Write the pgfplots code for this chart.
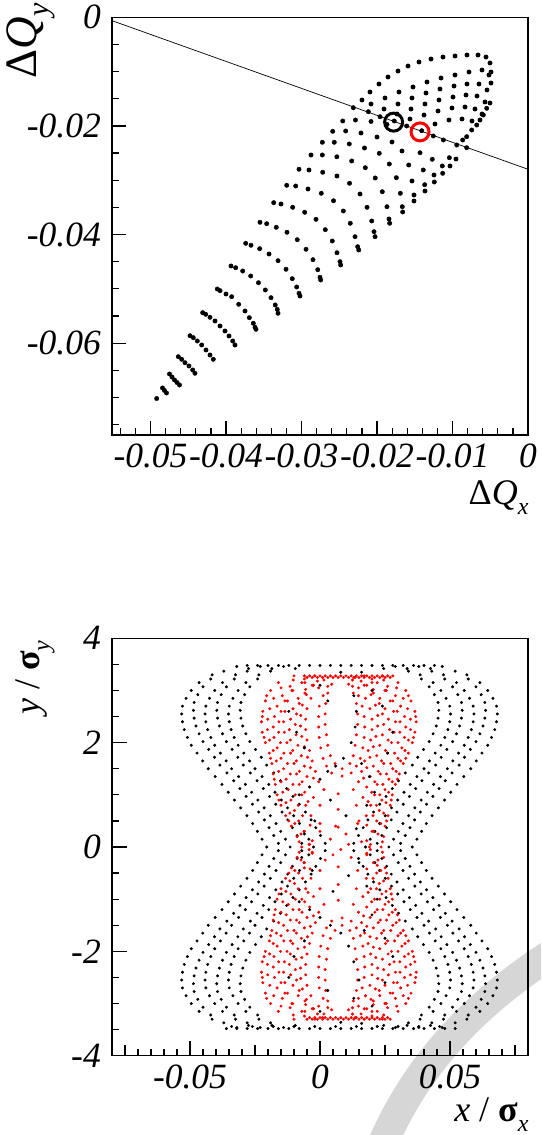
\documentclass[border=0pt]{standalone}
\usepackage{fontspec}
\setmainfont{Liberation Serif}
\usepackage{pgfplots}
\pgfplotsset{compat=1.18}
\definecolor{wm}{RGB}{214,214,214}
\newcommand{\lbl}{\fontsize{35.5}{35.5}\selectfont}
\newcommand{\ttl}{\fontsize{36}{36}\selectfont}
\newcommand{\ttlbig}{\fontsize{45}{45}\selectfont}
\newcommand{\sub}[1]{\raisebox{-0.28em}{\fontsize{24}{24}\selectfont\textit{#1}}}
\newcommand{\subbig}[1]{\raisebox{-0.28em}{\fontsize{30}{30}\selectfont\textit{#1}}}
\begin{document}
\begin{tikzpicture}
\useasboundingbox (0,0) rectangle (541pt,-1135pt);
\begin{scope}
\clip (0,0) rectangle (541pt,-1135pt);
\draw[wm, line width=30pt, line cap=butt] (380pt,-1150pt) .. controls (405pt,-1090pt) and (450pt,-1020pt) .. (550pt,-955pt);
\end{scope}
% ---------------- top panel ----------------
\begin{axis}[
 at={(112pt,-17.3pt)}, anchor=north west, scale only axis, width=416pt, height=417.7pt,
 xmin=-0.0551, xmax=0, ymin=-0.0769, ymax=0, scaled ticks=false,
 axis line style={line width=1.4pt},
 tick align=inside, xtick pos=left, ytick pos=left,
 major tick length=14pt, minor tick length=7pt,
 tick style={line width=1.2pt, black},
 xtick={-0.05,-0.04,-0.03,-0.02,-0.01,0},
 xticklabels={-0.05,-0.04,-0.03,-0.02,-0.01,0},
 minor xtick={-0.054,-0.052,-0.048,-0.046,-0.044,-0.042,-0.038,-0.036,-0.034,-0.032,-0.028,-0.026,-0.024,-0.022,-0.018,-0.016,-0.014,-0.012,-0.008,-0.006,-0.004,-0.002},
 ytick={-0.06,-0.04,-0.02,0}, yticklabels={-0.06,-0.04,-0.02,0},
 minor ytick={-0.075,-0.07,-0.065,-0.055,-0.05,-0.045,-0.035,-0.03,-0.025,-0.015,-0.01,-0.005},
 tick label style={font=\lbl\itshape},
 xticklabel style={inner sep=1pt, yshift=-8pt},
 yticklabel style={inner sep=1pt, xshift=-10pt},
]
\addplot[black, line width=0.7pt] coordinates {(-0.0551,-0.00062) (0,-0.02798)};
\addplot[only marks, mark=*, mark size=2.2pt, black, mark options={draw=none, fill=black}] coordinates {
(-0.04918,-0.07018)
(-0.04841,-0.06824)(-0.04815,-0.06870)(-0.04788,-0.06916)
(-0.04748,-0.06567)(-0.04715,-0.06622)(-0.04682,-0.06677)(-0.04649,-0.06723)(-0.04616,-0.06769)
(-0.04632,-0.06248)(-0.04587,-0.06296)(-0.04543,-0.06359)(-0.04490,-0.06419)(-0.04441,-0.06493)(-0.04411,-0.06554)
(-0.04477,-0.05862)(-0.04433,-0.05898)(-0.04380,-0.05959)(-0.04322,-0.06033)(-0.04265,-0.06125)(-0.04212,-0.06217)(-0.04168,-0.06296)
(-0.04309,-0.05438)(-0.04269,-0.05468)(-0.04212,-0.05523)(-0.04146,-0.05591)(-0.04079,-0.05683)(-0.04013,-0.05775)(-0.03960,-0.05867)(-0.03911,-0.05959)(-0.03881,-0.06033)
(-0.04115,-0.05002)(-0.04079,-0.05033)(-0.04000,-0.05094)(-0.03925,-0.05144)(-0.03832,-0.05284)(-0.03748,-0.05407)(-0.03691,-0.05530)(-0.03638,-0.05633)(-0.03616,-0.05707)(-0.03603,-0.05744)
(-0.03934,-0.04578)(-0.03872,-0.04610)(-0.03779,-0.04671)(-0.03673,-0.04763)(-0.03570,-0.04886)(-0.03479,-0.05020)(-0.03404,-0.05162)(-0.03348,-0.05296)(-0.03321,-0.05376)(-0.03311,-0.05449)
(-0.03739,-0.04161)(-0.03669,-0.04197)(-0.03554,-0.04260)(-0.03430,-0.04358)(-0.03311,-0.04481)(-0.03205,-0.04639)(-0.03122,-0.04812)(-0.03064,-0.04965)(-0.03033,-0.05081)(-0.03020,-0.05131)
(-0.03550,-0.03774)(-0.03461,-0.03800)(-0.03334,-0.03866)(-0.03192,-0.03958)(-0.03056,-0.04094)(-0.02940,-0.04271)(-0.02848,-0.04462)(-0.02785,-0.04647)(-0.02755,-0.04786)(-0.02746,-0.04836)
(-0.03368,-0.03413)(-0.03272,-0.03437)(-0.03117,-0.03498)(-0.02958,-0.03590)(-0.02808,-0.03719)(-0.02685,-0.03910)(-0.02592,-0.04118)(-0.02530,-0.04334)(-0.02490,-0.04499)(-0.02481,-0.04560)
(-0.03196,-0.03093)(-0.03077,-0.03106)(-0.02914,-0.03161)(-0.02738,-0.03240)(-0.02576,-0.03378)(-0.02446,-0.03566)(-0.02354,-0.03792)(-0.02291,-0.04039)(-0.02256,-0.04223)(-0.02242,-0.04284)
(-0.03033,-0.02798)(-0.02901,-0.02811)(-0.02719,-0.02853)(-0.02530,-0.02922)(-0.02364,-0.03056)(-0.02225,-0.03253)(-0.02132,-0.03498)(-0.02070,-0.03750)(-0.02040,-0.03947)(-0.02026,-0.04039)
(-0.02874,-0.02535)(-0.02724,-0.02535)(-0.02532,-0.02568)(-0.02335,-0.02645)(-0.02155,-0.02769)(-0.02023,-0.02958)(-0.01930,-0.03211)(-0.01868,-0.03487)(-0.01841,-0.03713)(-0.01832,-0.03792)
(-0.02724,-0.02301)(-0.02566,-0.02301)(-0.02367,-0.02332)(-0.02166,-0.02406)(-0.01970,-0.02504)(-0.01837,-0.02701)(-0.01744,-0.02953)(-0.01691,-0.03240)(-0.01665,-0.03487)(-0.01660,-0.03584)
(-0.02587,-0.02099)(-0.02415,-0.02093)(-0.02212,-0.02130)(-0.02000,-0.02204)(-0.01801,-0.02296)(-0.01669,-0.02461)(-0.01580,-0.02719)(-0.01536,-0.03014)(-0.01510,-0.03271)(-0.01510,-0.03382)
(-0.02454,-0.01909)(-0.02285,-0.01891)(-0.02079,-0.01918)(-0.01868,-0.01973)(-0.01430,-0.02493)(-0.01387,-0.02811)(-0.01368,-0.03082)(-0.01364,-0.03198)
(-0.02314,-0.01664)(-0.02115,-0.01738)(-0.01960,-0.01830)(-0.01771,-0.01909)(-0.01607,-0.02001)(-0.01408,-0.02088)(-0.01254,-0.02185)(-0.01121,-0.02259)(-0.00944,-0.02351)(-0.00812,-0.02401)
(-0.01268,-0.02614)(-0.01245,-0.02903)(-0.01241,-0.03032)(-0.01135,-0.02737)(-0.01130,-0.02872)(-0.01042,-0.02585)(-0.01033,-0.02737)(-0.00954,-0.02609)
(-0.02199,-0.01522)(-0.02093,-0.01375)(-0.01974,-0.01228)(-0.01854,-0.01099)(-0.01722,-0.00989)(-0.01589,-0.00897)(-0.01444,-0.00823)(-0.01285,-0.00768)(-0.01126,-0.00731)(-0.00967,-0.00712)(-0.00808,-0.00694)(-0.00662,-0.00694)(-0.00556,-0.00731)(-0.00503,-0.00841)(-0.00490,-0.01007)
(-0.00490,-0.01210)(-0.00503,-0.01578)(-0.00547,-0.01675)(-0.00592,-0.01799)(-0.00636,-0.01891)(-0.00679,-0.01983)(-0.00746,-0.02075)(-0.00812,-0.02198)(-0.00865,-0.02259)
(-0.02079,-0.01596)(-0.01894,-0.01486)(-0.01709,-0.01375)(-0.01523,-0.01283)(-0.01338,-0.01191)(-0.01152,-0.01117)(-0.00967,-0.01062)(-0.00781,-0.01007)(-0.00609,-0.00970)(-0.00517,-0.01062)
(-0.01907,-0.01688)(-0.01722,-0.01596)(-0.01536,-0.01486)(-0.01351,-0.01394)(-0.01166,-0.01320)(-0.00980,-0.01265)(-0.00808,-0.01228)(-0.00649,-0.01228)(-0.00543,-0.01338)
(-0.01735,-0.01780)(-0.01550,-0.01688)(-0.01364,-0.01596)(-0.01179,-0.01522)(-0.00993,-0.01467)(-0.00821,-0.01430)(-0.00675,-0.01449)(-0.00570,-0.01559)
(-0.01563,-0.01872)(-0.01377,-0.01799)(-0.01192,-0.01725)(-0.01007,-0.01670)(-0.00834,-0.01651)(-0.00702,-0.01688)(-0.00609,-0.01780)
(-0.01232,-0.01964)(-0.01046,-0.01891)(-0.00874,-0.01872)(-0.00742,-0.01909)
};
\addplot[only marks, mark=o, mark size=9pt, black, line width=3pt] coordinates {(-0.0178,-0.0193)};
\addplot[only marks, mark=o, mark size=9pt, red, line width=3pt] coordinates {(-0.0143,-0.0211)};
\end{axis}
\node[rotate=90, anchor=east, font=\ttlbig] at (31pt,0pt) {Δ\textit{Q}\subbig{y}};
\node[anchor=base east, font=\ttl] at (532pt,-504pt) {Δ\textit{Q}\sub{x}};
% ---------------- bottom panel ----------------
\begin{axis}[
 at={(112pt,-638.3pt)}, anchor=north west, scale only axis, width=416pt, height=417.4pt,
 xmin=-0.08, xmax=0.08, ymin=-4, ymax=4, scaled ticks=false,
 axis line style={line width=1.4pt},
 tick align=inside, xtick pos=left, ytick pos=left,
 major tick length=15pt, minor tick length=7pt,
 tick style={line width=1.2pt, black},
 xtick={-0.05,0,0.05}, xticklabels={-0.05,0,0.05},
 minor xtick={-0.075,-0.07,-0.065,-0.06,-0.055,-0.045,-0.04,-0.035,-0.03,-0.025,-0.02,-0.015,-0.01,-0.005,0.005,0.01,0.015,0.02,0.025,0.03,0.035,0.04,0.045,0.055,0.06,0.065,0.07,0.075},
 extra x ticks={-0.075,-0.025,0.025,0.075}, extra x tick labels={,,,},
 extra x tick style={major tick length=11pt},
 ytick={-4,-2,0,2,4}, yticklabels={-4,-2,0,2,4},
 minor ytick={-3.5,-3,-2.5,-1.5,-1,-0.5,0.5,1,1.5,2.5,3,3.5},
 tick label style={font=\lbl\itshape},
 xticklabel style={inner sep=1pt, yshift=-8pt},
 yticklabel style={inner sep=1pt, xshift=-10pt},
]
% black orbits, upper half
\addplot[black, only marks, mark=*, mark size=1.3pt, mark options={draw=none, fill=black}] coordinates {
(-0.032,3.46)(-0.0275,3.42)(-0.023,3.46)(-0.0185,3.42)(-0.014,3.46)(-0.0095,3.42)(0.047,3.46)(0.0425,3.42)(0.038,3.46)(0.0335,3.42)(0.029,3.46)(0.0245,3.42)
(-0.0415,3.3)(-0.037,3.37)(-0.0325,3.3)(-0.028,3.37)(-0.0235,3.3)(-0.019,3.37)(0.0565,3.3)(0.052,3.37)(0.0475,3.3)(0.043,3.37)(0.0385,3.3)(0.034,3.37)
(-0.0465,3.15)(-0.042,3.22)(-0.0375,3.15)(-0.033,3.22)(-0.0285,3.15)(-0.024,3.22)(0.0615,3.15)(0.057,3.22)(0.0525,3.15)(0.048,3.22)(0.0435,3.15)(0.039,3.22)
(-0.0495,3.0)(-0.045,3.07)(-0.0405,3.0)(-0.036,3.07)(-0.0315,3.0)(-0.027,3.07)(0.0645,3.0)(0.06,3.07)(0.0555,3.0)(0.051,3.07)(0.0465,3.0)(0.042,3.07)
(-0.0515,2.85)(-0.047,2.92)(-0.0425,2.85)(-0.038,2.92)(-0.0335,2.85)(-0.029,2.92)(0.0665,2.85)(0.062,2.92)(0.0575,2.85)(0.053,2.92)(0.0485,2.85)(0.044,2.92)
(-0.0529,2.7)(-0.0484,2.77)(-0.0439,2.7)(-0.0394,2.77)(-0.0349,2.7)(-0.0304,2.77)(0.0679,2.7)(0.0634,2.77)(0.0589,2.7)(0.0544,2.77)(0.0499,2.7)(0.0454,2.77)
(-0.0532,2.55)(-0.0487,2.62)(-0.0442,2.55)(-0.0397,2.62)(-0.0352,2.55)(-0.0307,2.62)(0.0682,2.55)(0.0637,2.62)(0.0592,2.55)(0.0547,2.62)(0.0502,2.55)(0.0457,2.62)
(-0.0529,2.4)(-0.0484,2.47)(-0.0439,2.4)(-0.0394,2.47)(-0.0349,2.4)(-0.0304,2.47)(0.0679,2.4)(0.0634,2.47)(0.0589,2.4)(0.0544,2.47)(0.0499,2.4)(0.0454,2.47)
(-0.0522,2.25)(-0.0477,2.32)(-0.0432,2.25)(-0.0387,2.32)(-0.0342,2.25)(-0.0297,2.32)(0.0672,2.25)(0.0627,2.32)(0.0582,2.25)(0.0537,2.32)(0.0492,2.25)(0.0447,2.32)
(-0.051,2.1)(-0.0465,2.17)(-0.042,2.1)(-0.0375,2.17)(-0.033,2.1)(-0.0285,2.17)(0.066,2.1)(0.0615,2.17)(0.057,2.1)(0.0525,2.17)(0.048,2.1)(0.0435,2.17)
(-0.0495,1.95)(-0.045,2.02)(-0.0405,1.95)(-0.036,2.02)(-0.0315,1.95)(-0.027,2.02)(0.0645,1.95)(0.06,2.02)(0.0555,1.95)(0.051,2.02)(0.0465,1.95)(0.042,2.02)
(-0.0473,1.8)(-0.0428,1.87)(-0.0383,1.8)(-0.0338,1.87)(-0.0293,1.8)(-0.0248,1.87)(0.0623,1.8)(0.0578,1.87)(0.0533,1.8)(0.0488,1.87)(0.0443,1.8)(0.0398,1.87)
(-0.0451,1.65)(-0.0406,1.72)(-0.0361,1.65)(-0.0316,1.72)(-0.0271,1.65)(-0.0226,1.72)(0.0601,1.65)(0.0556,1.72)(0.0511,1.65)(0.0466,1.72)(0.0421,1.65)(0.0376,1.72)
(-0.043,1.5)(-0.0385,1.57)(-0.034,1.5)(-0.0295,1.57)(-0.025,1.5)(-0.0205,1.57)(0.058,1.5)(0.0535,1.57)(0.049,1.5)(0.0445,1.57)(0.04,1.5)(0.0355,1.57)
(-0.0403,1.35)(-0.0358,1.42)(-0.0313,1.35)(-0.0268,1.42)(-0.0223,1.35)(-0.0178,1.42)(0.0553,1.35)(0.0508,1.42)(0.0463,1.35)(0.0418,1.42)(0.0373,1.35)(0.0328,1.42)
(-0.0377,1.2)(-0.0332,1.27)(-0.0287,1.2)(-0.0242,1.27)(-0.0197,1.2)(-0.0152,1.27)(0.0527,1.2)(0.0482,1.27)(0.0437,1.2)(0.0392,1.27)(0.0347,1.2)(0.0302,1.27)
(-0.0353,1.05)(-0.0308,1.12)(-0.0263,1.05)(-0.0218,1.12)(-0.0173,1.05)(-0.0128,1.12)(0.0503,1.05)(0.0458,1.12)(0.0413,1.05)(0.0368,1.12)(0.0323,1.05)(0.0278,1.12)
(-0.0329,0.9)(-0.0284,0.97)(-0.0239,0.9)(-0.0194,0.97)(-0.0149,0.9)(-0.0104,0.97)(0.0479,0.9)(0.0434,0.97)(0.0389,0.9)(0.0344,0.97)(0.0299,0.9)(0.0254,0.97)
(-0.0305,0.75)(-0.026,0.82)(-0.0215,0.75)(-0.017,0.82)(-0.0125,0.75)(-0.008,0.82)(0.0455,0.75)(0.041,0.82)(0.0365,0.75)(0.032,0.82)(0.0275,0.75)(0.023,0.82)
(-0.0281,0.6)(-0.0236,0.67)(-0.0191,0.6)(-0.0146,0.67)(-0.0101,0.6)(-0.0056,0.67)(0.0431,0.6)(0.0386,0.67)(0.0341,0.6)(0.0296,0.67)(0.0251,0.6)(0.0206,0.67)
(-0.0259,0.45)(-0.0214,0.52)(-0.0169,0.45)(-0.0124,0.52)(-0.0079,0.45)(-0.0034,0.52)(0.0409,0.45)(0.0364,0.52)(0.0319,0.45)(0.0274,0.52)(0.0229,0.45)(0.0184,0.52)
(-0.0241,0.3)(-0.0196,0.37)(-0.0151,0.3)(-0.0106,0.37)(-0.0061,0.3)(-0.0016,0.37)(0.0391,0.3)(0.0346,0.37)(0.0301,0.3)(0.0256,0.37)(0.0211,0.3)(0.0166,0.37)
(-0.0223,0.15)(-0.0178,0.22)(-0.0133,0.15)(-0.0088,0.22)(-0.0043,0.15)(0.0002,0.22)(0.0373,0.15)(0.0328,0.22)(0.0283,0.15)(0.0238,0.22)(0.0193,0.15)(0.0148,0.22)
(-0.0205,0.0)(-0.016,0.07)(-0.0115,0.0)(-0.007,0.07)(-0.0025,0.0)(0.002,0.07)(0.0355,0.0)(0.031,0.07)(0.0265,0.0)(0.022,0.07)(0.0175,0.0)(0.013,0.07)
(-0.028,3.48)(-0.024,3.48)(-0.02,3.48)(-0.016,3.48)(-0.012,3.48)(-0.008,3.48)(-0.004,3.48)(0,3.48)(0.004,3.48)(0.008,3.48)(0.012,3.48)(0.016,3.48)(0.02,3.48)(0.024,3.48)(0.028,3.48)(0.032,3.48)(0.036,3.48)(0.04,3.48)(0.044,3.48)
};
% black orbits, lower half
\addplot[black, only marks, mark=*, mark size=1.3pt, mark options={draw=none, fill=black}] coordinates {
(-0.032,-3.46)(-0.0275,-3.42)(-0.023,-3.46)(-0.0185,-3.42)(-0.014,-3.46)(-0.0095,-3.42)(0.047,-3.46)(0.0425,-3.42)(0.038,-3.46)(0.0335,-3.42)(0.029,-3.46)(0.0245,-3.42)
(-0.0415,-3.3)(-0.037,-3.37)(-0.0325,-3.3)(-0.028,-3.37)(-0.0235,-3.3)(-0.019,-3.37)(0.0565,-3.3)(0.052,-3.37)(0.0475,-3.3)(0.043,-3.37)(0.0385,-3.3)(0.034,-3.37)
(-0.0465,-3.15)(-0.042,-3.22)(-0.0375,-3.15)(-0.033,-3.22)(-0.0285,-3.15)(-0.024,-3.22)(0.0615,-3.15)(0.057,-3.22)(0.0525,-3.15)(0.048,-3.22)(0.0435,-3.15)(0.039,-3.22)
(-0.0495,-3.0)(-0.045,-3.07)(-0.0405,-3.0)(-0.036,-3.07)(-0.0315,-3.0)(-0.027,-3.07)(0.0645,-3.0)(0.06,-3.07)(0.0555,-3.0)(0.051,-3.07)(0.0465,-3.0)(0.042,-3.07)
(-0.0515,-2.85)(-0.047,-2.92)(-0.0425,-2.85)(-0.038,-2.92)(-0.0335,-2.85)(-0.029,-2.92)(0.0665,-2.85)(0.062,-2.92)(0.0575,-2.85)(0.053,-2.92)(0.0485,-2.85)(0.044,-2.92)
(-0.0529,-2.7)(-0.0484,-2.77)(-0.0439,-2.7)(-0.0394,-2.77)(-0.0349,-2.7)(-0.0304,-2.77)(0.0679,-2.7)(0.0634,-2.77)(0.0589,-2.7)(0.0544,-2.77)(0.0499,-2.7)(0.0454,-2.77)
(-0.0532,-2.55)(-0.0487,-2.62)(-0.0442,-2.55)(-0.0397,-2.62)(-0.0352,-2.55)(-0.0307,-2.62)(0.0682,-2.55)(0.0637,-2.62)(0.0592,-2.55)(0.0547,-2.62)(0.0502,-2.55)(0.0457,-2.62)
(-0.0529,-2.4)(-0.0484,-2.47)(-0.0439,-2.4)(-0.0394,-2.47)(-0.0349,-2.4)(-0.0304,-2.47)(0.0679,-2.4)(0.0634,-2.47)(0.0589,-2.4)(0.0544,-2.47)(0.0499,-2.4)(0.0454,-2.47)
(-0.0522,-2.25)(-0.0477,-2.32)(-0.0432,-2.25)(-0.0387,-2.32)(-0.0342,-2.25)(-0.0297,-2.32)(0.0672,-2.25)(0.0627,-2.32)(0.0582,-2.25)(0.0537,-2.32)(0.0492,-2.25)(0.0447,-2.32)
(-0.051,-2.1)(-0.0465,-2.17)(-0.042,-2.1)(-0.0375,-2.17)(-0.033,-2.1)(-0.0285,-2.17)(0.066,-2.1)(0.0615,-2.17)(0.057,-2.1)(0.0525,-2.17)(0.048,-2.1)(0.0435,-2.17)
(-0.0495,-1.95)(-0.045,-2.02)(-0.0405,-1.95)(-0.036,-2.02)(-0.0315,-1.95)(-0.027,-2.02)(0.0645,-1.95)(0.06,-2.02)(0.0555,-1.95)(0.051,-2.02)(0.0465,-1.95)(0.042,-2.02)
(-0.0473,-1.8)(-0.0428,-1.87)(-0.0383,-1.8)(-0.0338,-1.87)(-0.0293,-1.8)(-0.0248,-1.87)(0.0623,-1.8)(0.0578,-1.87)(0.0533,-1.8)(0.0488,-1.87)(0.0443,-1.8)(0.0398,-1.87)
(-0.0451,-1.65)(-0.0406,-1.72)(-0.0361,-1.65)(-0.0316,-1.72)(-0.0271,-1.65)(-0.0226,-1.72)(0.0601,-1.65)(0.0556,-1.72)(0.0511,-1.65)(0.0466,-1.72)(0.0421,-1.65)(0.0376,-1.72)
(-0.043,-1.5)(-0.0385,-1.57)(-0.034,-1.5)(-0.0295,-1.57)(-0.025,-1.5)(-0.0205,-1.57)(0.058,-1.5)(0.0535,-1.57)(0.049,-1.5)(0.0445,-1.57)(0.04,-1.5)(0.0355,-1.57)
(-0.0403,-1.35)(-0.0358,-1.42)(-0.0313,-1.35)(-0.0268,-1.42)(-0.0223,-1.35)(-0.0178,-1.42)(0.0553,-1.35)(0.0508,-1.42)(0.0463,-1.35)(0.0418,-1.42)(0.0373,-1.35)(0.0328,-1.42)
(-0.0377,-1.2)(-0.0332,-1.27)(-0.0287,-1.2)(-0.0242,-1.27)(-0.0197,-1.2)(-0.0152,-1.27)(0.0527,-1.2)(0.0482,-1.27)(0.0437,-1.2)(0.0392,-1.27)(0.0347,-1.2)(0.0302,-1.27)
(-0.0353,-1.05)(-0.0308,-1.12)(-0.0263,-1.05)(-0.0218,-1.12)(-0.0173,-1.05)(-0.0128,-1.12)(0.0503,-1.05)(0.0458,-1.12)(0.0413,-1.05)(0.0368,-1.12)(0.0323,-1.05)(0.0278,-1.12)
(-0.0329,-0.9)(-0.0284,-0.97)(-0.0239,-0.9)(-0.0194,-0.97)(-0.0149,-0.9)(-0.0104,-0.97)(0.0479,-0.9)(0.0434,-0.97)(0.0389,-0.9)(0.0344,-0.97)(0.0299,-0.9)(0.0254,-0.97)
(-0.0305,-0.75)(-0.026,-0.82)(-0.0215,-0.75)(-0.017,-0.82)(-0.0125,-0.75)(-0.008,-0.82)(0.0455,-0.75)(0.041,-0.82)(0.0365,-0.75)(0.032,-0.82)(0.0275,-0.75)(0.023,-0.82)
(-0.0281,-0.6)(-0.0236,-0.67)(-0.0191,-0.6)(-0.0146,-0.67)(-0.0101,-0.6)(-0.0056,-0.67)(0.0431,-0.6)(0.0386,-0.67)(0.0341,-0.6)(0.0296,-0.67)(0.0251,-0.6)(0.0206,-0.67)
(-0.0259,-0.45)(-0.0214,-0.52)(-0.0169,-0.45)(-0.0124,-0.52)(-0.0079,-0.45)(-0.0034,-0.52)(0.0409,-0.45)(0.0364,-0.52)(0.0319,-0.45)(0.0274,-0.52)(0.0229,-0.45)(0.0184,-0.52)
(-0.0241,-0.3)(-0.0196,-0.37)(-0.0151,-0.3)(-0.0106,-0.37)(-0.0061,-0.3)(-0.0016,-0.37)(0.0391,-0.3)(0.0346,-0.37)(0.0301,-0.3)(0.0256,-0.37)(0.0211,-0.3)(0.0166,-0.37)
(-0.0223,-0.15)(-0.0178,-0.22)(-0.0133,-0.15)(-0.0088,-0.22)(-0.0043,-0.15)(0.0002,-0.22)(0.0373,-0.15)(0.0328,-0.22)(0.0283,-0.15)(0.0238,-0.22)(0.0193,-0.15)(0.0148,-0.22)
(-0.016,-0.07)(-0.007,-0.07)(0.002,-0.07)(0.031,-0.07)(0.022,-0.07)(0.013,-0.07)
(-0.036,-3.48)(-0.032,-3.48)(-0.028,-3.48)(-0.024,-3.48)(-0.02,-3.48)(-0.016,-3.48)(-0.012,-3.48)(-0.008,-3.48)(-0.004,-3.48)(0,-3.48)(0.004,-3.48)(0.008,-3.48)(0.012,-3.48)(0.016,-3.48)(0.02,-3.48)(0.024,-3.48)(0.028,-3.48)(0.032,-3.48)(0.036,-3.48)(0.04,-3.48)(0.044,-3.48)(0.048,-3.48)(0.052,-3.48)
(-0.034,-3.44)(-0.026,-3.44)(-0.018,-3.44)(-0.01,-3.44)(-0.002,-3.44)(0.006,-3.44)(0.014,-3.44)(0.022,-3.44)(0.03,-3.44)(0.038,-3.44)(0.046,-3.44)
};
% red orbits
\addplot[red, only marks, mark=*, mark size=1.3pt, mark options={draw=none, fill=red}] coordinates {
(-0.010,3.28)(0.024,3.28)(-0.016,3.15)(0.030,3.15)(-0.019,3.0)(0.033,3.0)(-0.021,2.8)(0.035,2.8)(-0.022,2.6)(0.0365,2.6)(-0.0225,2.4)(0.037,2.4)(-0.0222,2.2)(0.0365,2.2)(-0.021,2.0)(0.0355,2.0)(-0.0195,1.8)(0.034,1.8)(-0.0185,1.6)(0.032,1.6)(-0.018,1.4)(0.0305,1.4)(-0.0172,1.2)(0.029,1.2)(-0.0165,1.0)(0.0278,1.0)(-0.015,0.8)(0.027,0.8)(-0.0132,0.6)(0.0262,0.6)(-0.011,0.4)(0.025,0.4)(-0.0088,0.2)(0.0245,0.2)(-0.007,0.0)(0.0235,0.0)
(-0.0205,2.9)(0.034,2.9)(-0.0222,2.5)(0.0368,2.5)(-0.0215,2.1)(0.036,2.1)(-0.019,1.7)(0.033,1.7)(-0.0176,1.3)(0.0298,1.3)(-0.0158,0.9)(0.0274,0.9)(-0.012,0.5)(0.0256,0.5)(-0.008,0.1)(0.024,0.1)
(-0.0103,3.2)(-0.015,3.05)(-0.0178,2.85)(-0.0193,2.65)(-0.0201,2.45)(-0.0202,2.25)(-0.0194,2.05)(-0.018,1.85)(-0.0168,1.65)(-0.0159,1.45)(-0.015,1.25)(-0.0143,1.05)(-0.0131,0.85)(-0.0116,0.65)(-0.0097,0.45)(-0.0073,0.25)(-0.0042,0.05)
(0.0245,3.2)(0.0295,3.05)(0.032,2.85)(0.0337,2.65)(0.0348,2.45)(0.0348,2.25)(0.034,2.05)(0.0327,1.85)(0.031,1.65)(0.0293,1.45)(0.0278,1.25)(0.0264,1.05)(0.0254,0.85)(0.0245,0.65)(0.0234,0.45)(0.0223,0.25)(0.0194,0.05)
(-0.006,3.22)(0.020,3.22)(-0.0115,3.08)(0.026,3.08)(-0.0145,2.9)(0.029,2.9)(-0.0165,2.7)(0.031,2.7)(-0.0175,2.5)(0.0325,2.5)(-0.018,2.3)(0.033,2.3)(-0.0177,2.1)(0.0325,2.1)(-0.0165,1.9)(0.0315,1.9)(-0.015,1.7)(0.030,1.7)(-0.014,1.5)(0.028,1.5)(-0.013,1.3)(0.0265,1.3)(-0.0122,1.1)(0.025,1.1)(-0.0112,0.9)(0.0238,0.9)(-0.0098,0.7)(0.0228,0.7)(-0.0082,0.5)(0.0218,0.5)(-0.006,0.3)(0.0205,0.3)(-0.003,0.12)(0.018,0.12)
(-0.0058,3.15)(-0.0108,3.0)(-0.0135,2.8)(-0.015,2.6)(-0.0158,2.4)(-0.0159,2.2)(-0.0152,2.0)(-0.0139,1.8)(-0.0125,1.6)(-0.0114,1.4)(-0.0104,1.2)(-0.0095,1.0)(-0.0084,0.8)(-0.0067,0.6)(-0.0038,0.42)
(0.020,3.15)(0.0255,3.0)(0.028,2.8)(0.0297,2.6)(0.0308,2.4)(0.0307,2.2)(0.03,2.0)(0.0287,1.8)(0.0272,1.6)(0.0256,1.4)(0.0242,1.2)(0.023,1.0)(0.0217,0.8)(0.0204,0.6)(0.018,0.42)
(-0.002,3.28)(0.017,3.28)(-0.007,3.15)(0.022,3.15)(-0.0105,3.0)(0.025,3.0)(-0.0125,2.8)(0.027,2.8)(-0.0135,2.6)(0.0283,2.6)(-0.014,2.4)(0.029,2.4)(-0.0137,2.2)(0.0285,2.2)(-0.0127,2.0)(0.0275,2.0)(-0.0113,1.8)(0.026,1.8)(-0.01,1.6)(0.0245,1.6)(-0.009,1.4)(0.0232,1.4)(-0.008,1.2)(0.022,1.2)(-0.007,1.0)(0.021,1.0)(-0.0055,0.8)(0.0195,0.8)(-0.0035,0.6)(0.0178,0.6)(0.0,0.45)(0.0145,0.45)(0.007,0.38)
(-0.001,3.18)(-0.0055,3.02)(-0.0084,2.85)(-0.0104,2.65)(-0.0113,2.45)(-0.0118,2.25)(-0.0114,2.05)(-0.0105,1.85)(-0.0091,1.65)(-0.0079,1.45)(-0.0069,1.25)(-0.0059,1.05)(-0.0046,0.87)
(0.0158,3.18)(0.0205,3.02)(0.023,2.85)(0.025,2.65)(0.0263,2.45)(0.0268,2.25)(0.0262,2.05)(0.0252,1.85)(0.0237,1.65)(0.0224,1.45)(0.0211,1.25)(0.0199,1.05)(0.0185,0.87)
(0.001,3.25)(0.0135,3.25)(-0.003,3.1)(0.018,3.1)(-0.0058,2.95)(0.0205,2.95)(-0.008,2.75)(0.0228,2.75)(-0.009,2.55)(0.024,2.55)(-0.0095,2.35)(0.0245,2.35)(-0.0092,2.15)(0.024,2.15)(-0.0085,1.95)(0.023,1.95)(-0.0072,1.75)(0.0218,1.75)(-0.006,1.55)(0.0205,1.55)(-0.005,1.35)(0.0193,1.35)(-0.004,1.15)(0.018,1.15)(-0.0025,0.95)(0.0165,0.95)(0.0,0.8)(0.014,0.8)(0.007,0.72)
(-0.0025,3.1)(-0.0052,2.92)(-0.0068,2.72)(-0.0074,2.52)(-0.0075,2.32)(-0.007,2.12)(-0.006,1.92)(-0.0048,1.72)(-0.0037,1.52)(-0.0025,1.32)
(0.017,3.1)(0.0196,2.92)(0.0213,2.72)(0.0222,2.52)(0.0222,2.32)(0.0215,2.12)(0.0205,1.92)(0.0192,1.72)(0.018,1.52)(0.0168,1.32)
(0.0015,3.2)(0.0125,3.2)(-0.0005,3.05)(0.0148,3.05)(-0.0035,2.85)(0.0175,2.85)(-0.005,2.65)(0.0192,2.65)(-0.0055,2.45)(0.020,2.45)(-0.0055,2.25)(0.020,2.25)(-0.005,2.05)(0.0195,2.05)(-0.004,1.85)(0.0185,1.85)(-0.003,1.65)(0.0172,1.65)(-0.0018,1.45)(0.016,1.45)(-0.0005,1.25)(0.0148,1.25)(0.0015,1.1)(0.0128,1.1)(0.007,1.02)
(0.003,3.08)(0.0125,3.08)(0.0012,2.9)(0.0148,2.9)(-0.0003,2.7)(0.0162,2.7)(-0.0005,2.5)(0.017,2.5)(-0.0005,2.3)(0.0172,2.3)(-0.0003,2.1)(0.017,2.1)(0.0003,1.9)(0.0165,1.9)(0.0012,1.7)(0.0155,1.7)(0.0025,1.55)(0.014,1.55)(0.0045,1.42)(0.012,1.42)(0.0085,1.36)
(0.0045,3.12)(0.011,3.12)(0.003,2.95)(0.0128,2.95)(0.0022,2.75)(0.014,2.75)(0.002,2.55)(0.0145,2.55)(0.002,2.35)(0.0145,2.35)(0.0025,2.15)(0.014,2.15)(0.003,1.95)(0.0135,1.95)(0.004,1.75)(0.0128,1.75)(0.0058,1.6)(0.0115,1.6)(0.0085,1.5)
(-0.006,3.28)(-0.004,3.28)(-0.002,3.28)(0,3.28)(0.002,3.28)(0.004,3.28)(0.006,3.28)(0.008,3.28)(0.01,3.28)(0.012,3.28)(0.014,3.28)(0.016,3.28)(0.018,3.28)(0.02,3.28)(0.022,3.28)(0.024,3.28)(0.026,3.28)(0.028,3.28)
(-0.005,3.25)(-0.003,3.25)(-0.001,3.25)(0.001,3.25)(0.003,3.25)(0.005,3.25)(0.007,3.25)(0.009,3.25)(0.011,3.25)(0.013,3.25)(0.015,3.25)(0.017,3.25)(0.019,3.25)(0.021,3.25)(0.023,3.25)(0.025,3.25)(0.027,3.25)
(-0.010,-3.30)(0.024,-3.30)(-0.016,-3.15)(0.030,-3.15)(-0.019,-3.0)(0.033,-3.0)(-0.021,-2.8)(0.035,-2.8)(-0.022,-2.6)(0.0365,-2.6)(-0.0225,-2.4)(0.037,-2.4)(-0.0222,-2.2)(0.0365,-2.2)(-0.021,-2.0)(0.0355,-2.0)(-0.0195,-1.8)(0.034,-1.8)(-0.0185,-1.6)(0.032,-1.6)(-0.018,-1.4)(0.0305,-1.4)(-0.0172,-1.2)(0.029,-1.2)(-0.0165,-1.0)(0.0278,-1.0)(-0.015,-0.8)(0.027,-0.8)(-0.0132,-0.6)(0.0262,-0.6)(-0.011,-0.4)(0.025,-0.4)(-0.0088,-0.2)(0.0245,-0.2)
(-0.0205,-2.9)(0.034,-2.9)(-0.0222,-2.5)(0.0368,-2.5)(-0.0215,-2.1)(0.036,-2.1)(-0.019,-1.7)(0.033,-1.7)(-0.0176,-1.3)(0.0298,-1.3)(-0.0158,-0.9)(0.0274,-0.9)(-0.012,-0.5)(0.0256,-0.5)(-0.008,-0.1)(0.024,-0.1)
(-0.0103,-3.22)(-0.015,-3.05)(-0.0178,-2.85)(-0.0193,-2.65)(-0.0201,-2.45)(-0.0202,-2.25)(-0.0194,-2.05)(-0.018,-1.85)(-0.0168,-1.65)(-0.0159,-1.45)(-0.015,-1.25)(-0.0143,-1.05)(-0.0131,-0.85)(-0.0116,-0.65)(-0.0097,-0.45)(-0.0073,-0.25)(-0.0042,-0.05)
(0.0245,-3.22)(0.0295,-3.05)(0.032,-2.85)(0.0337,-2.65)(0.0348,-2.45)(0.0348,-2.25)(0.034,-2.05)(0.0327,-1.85)(0.031,-1.65)(0.0293,-1.45)(0.0278,-1.25)(0.0264,-1.05)(0.0254,-0.85)(0.0245,-0.65)(0.0234,-0.45)(0.0223,-0.25)(0.0194,-0.05)
(-0.006,-3.24)(0.020,-3.24)(-0.0115,-3.08)(0.026,-3.08)(-0.0145,-2.9)(0.029,-2.9)(-0.0165,-2.7)(0.031,-2.7)(-0.0175,-2.5)(0.0325,-2.5)(-0.018,-2.3)(0.033,-2.3)(-0.0177,-2.1)(0.0325,-2.1)(-0.0165,-1.9)(0.0315,-1.9)(-0.015,-1.7)(0.030,-1.7)(-0.014,-1.5)(0.028,-1.5)(-0.013,-1.3)(0.0265,-1.3)(-0.0122,-1.1)(0.025,-1.1)(-0.0112,-0.9)(0.0238,-0.9)(-0.0098,-0.7)(0.0228,-0.7)(-0.0082,-0.5)(0.0218,-0.5)(-0.006,-0.3)(0.0205,-0.3)(-0.003,-0.12)(0.018,-0.12)
(-0.0058,-3.15)(-0.0108,-3.0)(-0.0135,-2.8)(-0.015,-2.6)(-0.0158,-2.4)(-0.0159,-2.2)(-0.0152,-2.0)(-0.0139,-1.8)(-0.0125,-1.6)(-0.0114,-1.4)(-0.0104,-1.2)(-0.0095,-1.0)(-0.0084,-0.8)(-0.0067,-0.6)(-0.0038,-0.42)
(0.020,-3.15)(0.0255,-3.0)(0.028,-2.8)(0.0297,-2.6)(0.0308,-2.4)(0.0307,-2.2)(0.03,-2.0)(0.0287,-1.8)(0.0272,-1.6)(0.0256,-1.4)(0.0242,-1.2)(0.023,-1.0)(0.0217,-0.8)(0.0204,-0.6)(0.018,-0.42)
(-0.002,-3.30)(0.017,-3.30)(-0.007,-3.15)(0.022,-3.15)(-0.0105,-3.0)(0.025,-3.0)(-0.0125,-2.8)(0.027,-2.8)(-0.0135,-2.6)(0.0283,-2.6)(-0.014,-2.4)(0.029,-2.4)(-0.0137,-2.2)(0.0285,-2.2)(-0.0127,-2.0)(0.0275,-2.0)(-0.0113,-1.8)(0.026,-1.8)(-0.01,-1.6)(0.0245,-1.6)(-0.009,-1.4)(0.0232,-1.4)(-0.008,-1.2)(0.022,-1.2)(-0.007,-1.0)(0.021,-1.0)(-0.0055,-0.8)(0.0195,-0.8)(-0.0035,-0.6)(0.0178,-0.6)(0.0,-0.45)(0.0145,-0.45)(0.007,-0.38)
(-0.001,-3.2)(-0.0055,-3.02)(-0.0084,-2.85)(-0.0104,-2.65)(-0.0113,-2.45)(-0.0118,-2.25)(-0.0114,-2.05)(-0.0105,-1.85)(-0.0091,-1.65)(-0.0079,-1.45)(-0.0069,-1.25)(-0.0059,-1.05)(-0.0046,-0.87)
(0.0158,-3.2)(0.0205,-3.02)(0.023,-2.85)(0.025,-2.65)(0.0263,-2.45)(0.0268,-2.25)(0.0262,-2.05)(0.0252,-1.85)(0.0237,-1.65)(0.0224,-1.45)(0.0211,-1.25)(0.0199,-1.05)(0.0185,-0.87)
(0.001,-3.27)(0.0135,-3.27)(-0.003,-3.1)(0.018,-3.1)(-0.0058,-2.95)(0.0205,-2.95)(-0.008,-2.75)(0.0228,-2.75)(-0.009,-2.55)(0.024,-2.55)(-0.0095,-2.35)(0.0245,-2.35)(-0.0092,-2.15)(0.024,-2.15)(-0.0085,-1.95)(0.023,-1.95)(-0.0072,-1.75)(0.0218,-1.75)(-0.006,-1.55)(0.0205,-1.55)(-0.005,-1.35)(0.0193,-1.35)(-0.004,-1.15)(0.018,-1.15)(-0.0025,-0.95)(0.0165,-0.95)(0.0,-0.8)(0.014,-0.8)(0.007,-0.72)
(-0.0025,-3.1)(-0.0052,-2.92)(-0.0068,-2.72)(-0.0074,-2.52)(-0.0075,-2.32)(-0.007,-2.12)(-0.006,-1.92)(-0.0048,-1.72)(-0.0037,-1.52)(-0.0025,-1.32)
(0.017,-3.1)(0.0196,-2.92)(0.0213,-2.72)(0.0222,-2.52)(0.0222,-2.32)(0.0215,-2.12)(0.0205,-1.92)(0.0192,-1.72)(0.018,-1.52)(0.0168,-1.32)
(0.0015,-3.2)(0.0125,-3.2)(-0.0005,-3.05)(0.0148,-3.05)(-0.0035,-2.85)(0.0175,-2.85)(-0.005,-2.65)(0.0192,-2.65)(-0.0055,-2.45)(0.020,-2.45)(-0.0055,-2.25)(0.020,-2.25)(-0.005,-2.05)(0.0195,-2.05)(-0.004,-1.85)(0.0185,-1.85)(-0.003,-1.65)(0.0172,-1.65)(-0.0018,-1.45)(0.016,-1.45)(-0.0005,-1.25)(0.0148,-1.25)(0.0015,-1.1)(0.0128,-1.1)(0.007,-1.02)
(0.003,-3.08)(0.0125,-3.08)(0.0012,-2.9)(0.0148,-2.9)(-0.0003,-2.7)(0.0162,-2.7)(-0.0005,-2.5)(0.017,-2.5)(-0.0005,-2.3)(0.0172,-2.3)(-0.0003,-2.1)(0.017,-2.1)(0.0003,-1.9)(0.0165,-1.9)(0.0012,-1.7)(0.0155,-1.7)(0.0025,-1.55)(0.014,-1.55)(0.0045,-1.42)(0.012,-1.42)(0.0085,-1.36)
(0.0045,-3.12)(0.011,-3.12)(0.003,-2.95)(0.0128,-2.95)(0.0022,-2.75)(0.014,-2.75)(0.002,-2.55)(0.0145,-2.55)(0.002,-2.35)(0.0145,-2.35)(0.0025,-2.15)(0.014,-2.15)(0.003,-1.95)(0.0135,-1.95)(0.004,-1.75)(0.0128,-1.75)(0.0058,-1.6)(0.0115,-1.6)(0.0085,-1.5)
(-0.005,-3.30)(-0.003,-3.30)(-0.001,-3.30)(0.001,-3.30)(0.003,-3.30)(0.005,-3.30)(0.007,-3.30)(0.009,-3.30)(0.011,-3.30)(0.013,-3.30)(0.015,-3.30)(0.017,-3.30)(0.019,-3.30)(0.021,-3.30)(0.023,-3.30)(0.025,-3.30)(0.027,-3.30)
(-0.004,-3.27)(-0.002,-3.27)(0,-3.27)(0.002,-3.27)(0.004,-3.27)(0.006,-3.27)(0.008,-3.27)(0.01,-3.27)(0.012,-3.27)(0.014,-3.27)(0.016,-3.27)(0.018,-3.27)(0.02,-3.27)(0.022,-3.27)(0.024,-3.27)(0.026,-3.27)
(0.0,0.3)(0.004,0.15)(0.01,0.25)(0.016,0.1)(0.02,0.3)(-0.004,0.05)(0.008,-0.05)(0.012,-0.2)(0.002,-0.25)(0.018,-0.15)(-0.003,-0.1)(0.006,0.4)(0.015,0.5)(0.022,-0.35)(-0.006,-0.4)(0.011,0.05)(0.005,-0.15)(0.019,0.0)
};
% black points over the red region
\addplot[black, only marks, mark=*, mark size=1.3pt, mark options={draw=none, fill=black}] coordinates {
(0.013,2.9)(0.014,2.6)(0.0135,2.3)(0.012,2.0)(0.009,1.7)(0.006,1.55)(0.003,1.45)(0.0,1.3)(-0.004,1.15)(-0.008,1.0)(0.016,1.6)(0.019,1.35)(0.021,1.05)(0.018,0.8)(-0.012,2.6)(-0.009,2.2)(-0.006,1.9)(0.024,2.7)(0.028,2.2)(0.026,1.8)(0.004,0.9)(0.01,0.6)(0.014,0.35)(-0.002,0.5)(-0.006,0.25)(0.02,3.0)(0.0,3.1)(0.008,3.35)(0.016,3.35)(0.003,2.8)
(0.013,-2.9)(0.015,-2.55)(0.013,-2.2)(0.011,-1.9)(0.008,-1.65)(0.004,-1.5)(0.0,-1.35)(-0.004,-1.2)(-0.008,-1.05)(0.017,-1.6)(0.02,-1.3)(0.022,-1.0)(0.018,-0.75)(-0.012,-2.5)(-0.01,-2.1)(-0.006,-1.8)(0.025,-2.6)(0.028,-2.1)(0.025,-1.75)(0.005,-0.85)(0.011,-0.55)(0.015,-0.3)(-0.003,-0.45)(-0.007,-0.2)(0.02,-3.05)(0.0,-3.15)(0.008,-3.36)(0.016,-3.38)(0.003,-2.75)
};
\end{axis}
\node[rotate=90, anchor=east, font=\ttl] at (35pt,-637pt) {\textit{y} / \textbf{σ}\sub{y}};
\node[anchor=base east, font=\ttl] at (532pt,-1121pt) {\textit{x} / \textbf{σ}\sub{x}};
\end{tikzpicture}
\end{document}
